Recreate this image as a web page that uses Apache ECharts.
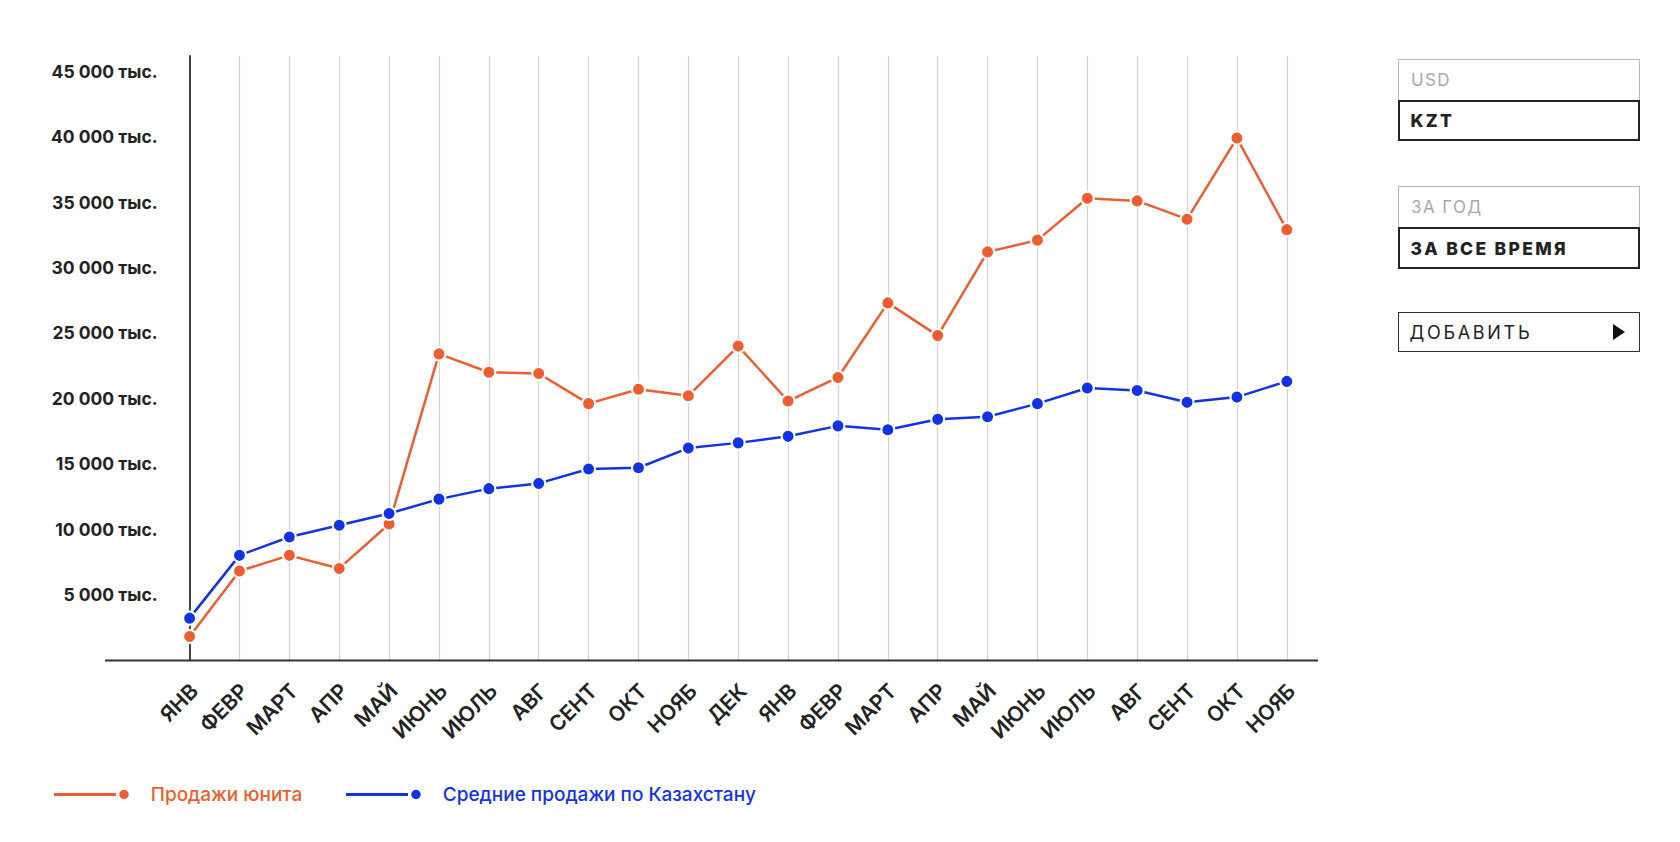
<!DOCTYPE html>
<html>
<head>
<meta charset="utf-8">
<script src="https://cdn.jsdelivr.net/npm/echarts@6/dist/echarts.min.js"></script>
<style>
  html, body { margin: 0; padding: 0; background: #fff; }
  #wrap { position: relative; width: 1680px; height: 842px; }
  #chart { position: absolute; left: 0; top: 0; width: 1680px; height: 842px; }
  .btn { position: absolute; left: 1398px; width: 242px; box-sizing: border-box;
         font-family: Inter, "Noto Sans", sans-serif; font-size: 17px; display: flex;
         align-items: center; padding-left: 12px; letter-spacing: 1.4px; }
  .off { border: 1px solid #b8b8b8; color: #a8a8a8; font-weight: 400; }
  .on { border: 2.5px solid #222; color: #222; font-weight: 800; padding-left: 10.5px; letter-spacing: 2.3px; font-size: 17.5px; }
  .add { border: 1.5px solid #333; color: #222; font-weight: 400; font-size: 18px; letter-spacing: 2.7px; padding-left: 10.5px; }
  .tri { position: absolute; right: 14px; top: 50%; margin-top: -8px; width: 0; height: 0;
         border-top: 8px solid transparent; border-bottom: 8px solid transparent; border-left: 12px solid #111; }
</style>
</head>
<body>
<div id="wrap">
  <div id="chart"></div>
  <div class="btn off" style="top:59px;height:42px;">USD</div>
  <div class="btn on" style="top:100px;height:41px;">KZT</div>
  <div class="btn off" style="top:186px;height:42px;">ЗА ГОД</div>
  <div class="btn on" style="top:227px;height:42px;">ЗА ВСЕ ВРЕМЯ</div>
  <div class="btn add" style="top:312px;height:40px;">ДОБАВИТЬ<span class="tri"></span></div>
</div>
<script>
const months = ['ЯНВ','ФЕВР','МАРТ','АПР','МАЙ','ИЮНЬ','ИЮЛЬ','АВГ','СЕНТ','ОКТ','НОЯБ','ДЕК',
                'ЯНВ','ФЕВР','МАРТ','АПР','МАЙ','ИЮНЬ','ИЮЛЬ','АВГ','СЕНТ','ОКТ','НОЯБ'];
const unitSales = [1800, 6800, 8000, 7000, 10400, 23400, 22000, 21900, 19600, 20700, 20200, 24000,
                   19800, 21600, 27300, 24800, 31200, 32100, 35300, 35100, 33700, 39900, 32900];
const avgSales = [3200, 8000, 9400, 10300, 11200, 12300, 13100, 13500, 14600, 14700, 16200, 16600,
                  17100, 17900, 17600, 18400, 18600, 19600, 20800, 20600, 19700, 20100, 21300];
const seriesNames = ['Продажи юнита', 'Средние продажи по Казахстану'];
const yUnit = 'тыс.';

const ORANGE = '#EC5E2F';
const BLUE = '#1233E3';
const FONT = 'Inter, "Noto Sans", sans-serif';

function fmt(v) {
  const s = String(Math.round(v));
  return s.replace(/\B(?=(\d{3})+(?!\d))/g, ' ') + ' ' + yUnit;
}

const legendIcon = 'path://M0 3.25L62 3.25L62 6.25L0 6.25Z M65.25 4.75A4.75 4.75 0 1 0 74.75 4.75A4.75 4.75 0 1 0 65.25 4.75Z';
const legendText = { fontFamily: FONT, fontSize: 19, fontWeight: 500, padding: [0, 0, 0, 17] };

const chart = echarts.init(document.getElementById('chart'), null, { renderer: 'svg' });
chart.setOption({
  animation: false,
  grid: { left: 189.6, right: 393.2, top: 55.7, bottom: 182 },
  xAxis: {
    type: 'category',
    data: months,
    boundaryGap: false,
    axisLine: { show: false },
    axisTick: { show: false },
    splitLine: { show: true, lineStyle: { color: '#d2d2d2', width: 1.2 } },
    axisLabel: {
      rotate: 45, margin: 17, color: '#222', fontFamily: FONT, fontSize: 21, fontWeight: 600,
      interval: 0, verticalAlign: 'top', padding: [0, 4, 0, 0]
    }
  },
  yAxis: {
    type: 'value', min: 0, max: 46200, interval: 5000,
    axisLine: { show: true, lineStyle: { color: '#111', width: 1.5 } },
    axisTick: { show: false },
    splitLine: { show: false },
    axisLabel: {
      showMinLabel: false, showMaxLabel: false, margin: 32,
      color: '#222', fontFamily: FONT, fontSize: 17.5, fontWeight: 700,
      formatter: fmt
    }
  },
  legend: [
    { data: [seriesNames[0]], left: 54, top: 785, padding: 0, itemWidth: 74.75, itemHeight: 9.5, icon: legendIcon,
      itemStyle: { borderWidth: 0 },
      textStyle: Object.assign({ color: ORANGE }, legendText) },
    { data: [seriesNames[1]], left: 346, top: 785, padding: 0, itemWidth: 74.75, itemHeight: 9.5, icon: legendIcon,
      itemStyle: { borderWidth: 0 },
      textStyle: Object.assign({ color: BLUE }, legendText) }
  ],
  graphic: [
    { type: 'line', shape: { x1: 105, y1: 660.5, x2: 1318, y2: 660.5 },
      style: { stroke: '#333', lineWidth: 2 }, z: 10 }
  ],
  series: [
    { name: seriesNames[0], type: 'line', data: unitSales, color: ORANGE,
      symbol: 'circle', symbolSize: 13,
      lineStyle: { width: 2.5, color: ORANGE },
      itemStyle: { color: ORANGE, borderColor: '#fff', borderWidth: 2 }, z: 3 },
    { name: seriesNames[1], type: 'line', data: avgSales, color: BLUE,
      symbol: 'circle', symbolSize: 13,
      lineStyle: { width: 2.5, color: BLUE },
      itemStyle: { color: BLUE, borderColor: '#fff', borderWidth: 2 }, z: 4 }
  ]
});
</script>
</body>
</html>
